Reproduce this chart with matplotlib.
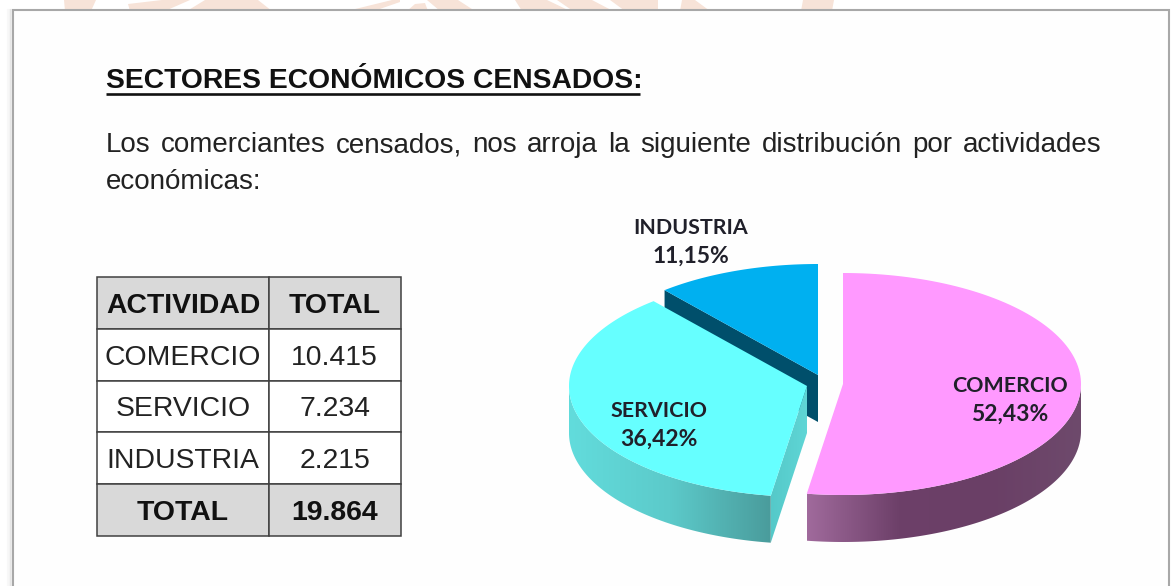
import matplotlib
matplotlib.use("Agg")
import matplotlib.pyplot as plt
from matplotlib.colors import LinearSegmentedColormap
from matplotlib.patches import Polygon
import numpy as np

## Data
actividades = ["COMERCIO", "SERVICIO", "INDUSTRIA"]
totales = [10415, 7234, 2215]
total_general = 19864
titulo = "SECTORES ECONÓMICOS CENSADOS:"
linea1 = "Los comerciantes censados, nos arroja la siguiente distribución por actividades"
linea2 = "económicas:"

## Figure size
W, H = 1171, 586
plt.rcParams["font.family"] = ["Liberation Sans", "DejaVu Sans"]

# pie geometry, in pixels
A_PIE = 238
B_PIE = 111
DEPTH = 47
# apex of each slice once exploded
APEX = {"COMERCIO": (843, 384), "SERVICIO": (807, 386), "INDUSTRIA": (818, 375)}
TOP_COL = {"COMERCIO": "#ff99ff", "SERVICIO": "#66ffff", "INDUSTRIA": "#00b0f0"}
LABEL_POS = {"COMERCIO": (1010, 386), "SERVICIO": (659, 411), "INDUSTRIA": (691, 228)}


def fmt_miles(n):
    return f"{n:,}".replace(",", ".")


def rim(apex, t):
    # t in degrees, clockwise from the top of the ellipse
    t = np.radians(t)
    return apex[0] + A_PIE * np.sin(t), apex[1] - B_PIE * np.cos(t)


def arc(apex, t0, t1, dy=0):
    t = np.linspace(t0, t1, 120)
    x, y = rim(apex, t)
    return np.column_stack([x, y + dy])


def gradient_fill(ax, pts, colors, zorder):
    # horizontal gradient clipped to a polygon
    cmap = LinearSegmentedColormap.from_list("g", colors)
    x0, x1 = pts[:, 0].min(), pts[:, 0].max()
    y0, y1 = pts[:, 1].min(), pts[:, 1].max()
    img = ax.imshow(
        np.linspace(0, 1, 256).reshape(1, -1),
        extent=(x0, x1, y1, y0),
        cmap=cmap,
        aspect="auto",
        zorder=zorder,
    )
    clip = Polygon(pts, closed=True, transform=ax.transData, fc="none", ec="none")
    ax.add_patch(clip)
    img.set_clip_path(clip)


fig = plt.figure(figsize=(W / 100, H / 100), dpi=100)
ax = fig.add_axes([0, 0, 1, 1])

## Background: pale orange bands above the card
bands = [
    [(64, 0), (96, 0), (91, 11), (65, 11)],
    [(128, 4), (162, 0), (190, 0), (165, 11), (130, 11)],
    [(205, 0), (258, 0), (272, 11), (187, 11)],
    [(392, 0), (400, 0), (400, 2), (374, 11), (347, 11)],
    [(407, 11), (415, 4), (425, 3), (428, 11)],
    [(427, 0), (458, 0), (475, 11), (440, 11)],
    [(515, 0), (547, 0), (570, 11), (522, 11)],
    [(557, 0), (592, 0), (613, 11), (573, 11)],
    [(610, 0), (658, 0), (658, 11), (625, 11)],
    [(682, 0), (695, 0), (710, 11), (680, 11)],
    [(803, 0), (834, 0), (832, 11), (801, 11)],
]
for b in bands:
    ax.add_patch(Polygon(b, closed=True, fc="#f7e3d8", ec="none", zorder=1))

# card and its soft shadow
for off, alpha in [(5, 0.05), (3, 0.08), (2, 0.12)]:
    ax.plot([12.5 - off, 12.5 - off], [10, H], color="#808080", alpha=alpha, lw=1.5, zorder=2)
ax.add_patch(
    Polygon(
        [(12.5, 10), (1169, 10), (1169, H + 5), (12.5, H + 5)],
        closed=True,
        fc="#fefefe",
        ec="#a8a8a8",
        lw=1.5,
        zorder=3,
    )
)

## Text block
ax.text(106, 88, titulo, fontsize=20.3, fontweight="bold", color="#111111", va="baseline", zorder=5)
ax.plot([106, 640], [94, 94], color="#111111", lw=1.9, solid_capstyle="butt", zorder=5)

# first line is justified between 106 and 1101
palabras = linea1.split(" ")
objs = [ax.text(0, 152, p, fontsize=20, color="#222222", va="baseline", zorder=5) for p in palabras]
rend = fig.canvas.get_renderer()
anchos = [o.get_window_extent(rend).width for o in objs]
hueco = (1101 - 106 - sum(anchos)) / (len(palabras) - 1)
x = 106
for o, w in zip(objs, anchos):
    o.set_x(x)
    x += w + hueco
ax.text(106, 189, linea2, fontsize=20, color="#222222", va="baseline", zorder=5)

## Pie, drawn back to front from the values
fracs = np.array(totales) / total_general
ends = np.cumsum(fracs) * 360
starts = np.concatenate([[0], ends[:-1]])
ang = dict(zip(actividades, zip(starts, ends)))

# Industria: only the cut face shows
ap = APEX["INDUSTRIA"]
t0, t1 = ang["INDUSTRIA"]
p_end = np.array(rim(ap, t0))
face = np.array([ap, p_end, p_end + [0, DEPTH], (ap[0], ap[1] + DEPTH)])
ax.add_patch(Polygon(face, closed=True, fc="#004f6b", ec="none", zorder=6))
top = np.vstack([[ap], arc(ap, t0, t1)])
ax.add_patch(Polygon(top, closed=True, fc=TOP_COL["INDUSTRIA"], ec="none", zorder=7))

# Servicio: outer rim, cut face at the right, top
ap = APEX["SERVICIO"]
t0, t1 = ang["SERVICIO"]
band = np.vstack([arc(ap, t0, 270), arc(ap, t0, 270, DEPTH)[::-1]])
gradient_fill(ax, band, ["#62dcdc", "#5ccaca", "#4a9c9c"], 8)
p_end = np.array(rim(ap, t0))
face = np.array([ap, p_end, p_end + [0, DEPTH], (ap[0], ap[1] + DEPTH)])
gradient_fill(ax, face, ["#55c9c9", "#5fd6d6"], 9)
top = np.vstack([[ap], arc(ap, t0, t1)])
ax.add_patch(Polygon(top, closed=True, fc=TOP_COL["SERVICIO"], ec="none", zorder=10))

# Comercio: outer rim and top
ap = APEX["COMERCIO"]
t0, t1 = ang["COMERCIO"]
band = np.vstack([arc(ap, 90, t1), arc(ap, 90, t1, DEPTH)[::-1]])
gradient_fill(ax, band, ["#a06a9c", "#6d4069", "#6a3f66", "#6e4a6c"], 11)
top = np.vstack([[ap], arc(ap, t0, t1)])
ax.add_patch(Polygon(top, closed=True, fc=TOP_COL["COMERCIO"], ec="none", zorder=12))

# labels
for nombre, frac in zip(actividades, fracs):
    lx, ly = LABEL_POS[nombre]
    pct = f"{frac * 100:.2f}%".replace(".", ",")
    ax.text(lx, ly, nombre, family=["Lato", "DejaVu Sans"], fontsize=15.4, fontweight="bold",
            color="#20202a", ha="center", va="center", zorder=20)
    ax.text(lx, ly + 28, pct, family=["Lato", "DejaVu Sans"], fontsize=16.5, fontweight="bold",
            color="#20202a", ha="center", va="center", zorder=20)

ax.set_xlim(0, W)
ax.set_ylim(H, 0)
ax.axis("off")

## Table
tx0, tx1, ty0, ty1 = 97.3, 400.7, 277.3, 535.7
ax_t = fig.add_axes([tx0 / W, 1 - ty1 / H, (tx1 - tx0) / W, (ty1 - ty0) / H], zorder=30)
ax_t.axis("off")
filas = [["ACTIVIDAD", "TOTAL"]]
filas += [[a, fmt_miles(t)] for a, t in zip(actividades, totales)]
filas += [["TOTAL", fmt_miles(total_general)]]
tabla = ax_t.table(cellText=filas, bbox=[0, 0, 1, 1], cellLoc="center",
                   colWidths=[171.4 / 303.4, 132 / 303.4])
tabla.auto_set_font_size(False)
for (r, c), cell in tabla.get_celld().items():
    cell.set_edgecolor("#404040")
    cell.set_linewidth(1.1)
    cell.PAD = 0.01
    cell.get_text().set_fontsize(20.4)
    cell.get_text().set_color("#222222")
    cell.get_text().set_verticalalignment("center_baseline")
    if r == 0 or r == len(filas) - 1:
        cell.set_facecolor("#d9d9d9")
        cell.get_text().set_fontweight("bold")
        cell.get_text().set_color("#111111")

fig.savefig("out.png", dpi=100)
